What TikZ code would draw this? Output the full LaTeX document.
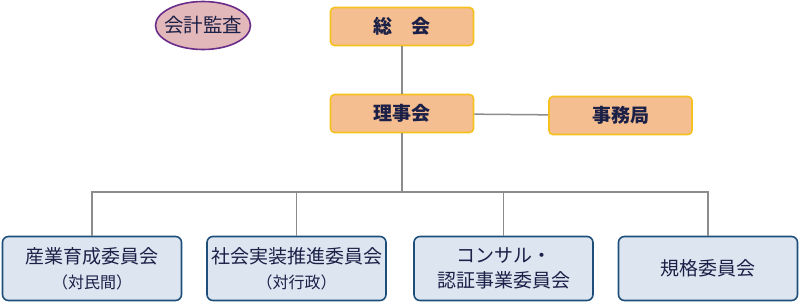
\documentclass[tikz,border=0pt]{standalone}
\usepackage{fontspec}
\setmainfont{Noto Sans CJK JP}
\usetikzlibrary{shapes.geometric}
\definecolor{boxorange}{HTML}{F4BE91}
\definecolor{goldline}{HTML}{F6C01E}
\definecolor{auditfill}{HTML}{E3B8BA}
\definecolor{auditline}{HTML}{6B2D8A}
\definecolor{cmtfill}{HTML}{DCE5F0}
\definecolor{cmtline}{HTML}{1E4F7A}
\definecolor{navytext}{HTML}{1B2047}
\definecolor{linkgray}{HTML}{8C8C8C}

\begin{document}
\begin{tikzpicture}[x=1pt, y=-1pt,
        board/.style={rectangle, rounded corners=4pt, draw=goldline, line width=1.6pt, fill=boxorange,
            minimum width=143pt, minimum height=38pt, text=navytext, font=\bfseries\fontsize{19}{22}\selectfont},
        audit/.style={ellipse, draw=auditline, line width=1.6pt, fill=auditfill, inner xsep=-14pt, inner ysep=0pt,
            minimum width=95pt, minimum height=48pt, text=navytext, font=\fontsize{19.5}{22}\selectfont},
        committee/.style={rectangle, rounded corners=6pt, draw=cmtline, line width=1.6pt, fill=cmtfill,
            minimum width=179pt, minimum height=64pt, align=center, text=navytext, font=\fontsize{19}{25}\selectfont},
        paths/.style={draw=linkgray, line width=1.5pt}
    ]

        \useasboundingbox (0,0) rectangle (800,303);

        % Nodes
        \node[audit] (kansa) at (203,25.5) {会計監査};
        \node[board] (sokai) at (402,26.5) {総\hspace{1em}会};
        \node[board] (rijikai) at (402,113.5) {理事会};
        \node[board] (jimukyoku) at (620.5,115.5) {事務局};

        \node[committee] (sangyo) at (92,268.5) {産業育成委員会\\{\fontsize{16}{22}\selectfont （対民間）}};
        \node[committee] (shakai) at (296.5,268.5) {社会実装推進委員会\\{\fontsize{16}{22}\selectfont （対行政）}};
        \node[committee] (consul) at (503.5,268.5) {コンサル・\\認証事業委員会};
        \node[committee] (kikaku) at (708,268.5) {規格委員会};

        \coordinate (bus) at (402,192);

        % Paths
        \draw[paths] (sokai) -- (rijikai);
        \draw[paths] (rijikai) -- (jimukyoku);
        \draw[paths] (rijikai) -- (bus);
        \draw[paths] (sangyo.north) |- (bus);
        \draw[paths] (shakai.north) |- (bus);
        \draw[paths] (consul.north) |- (bus);
        \draw[paths] (kikaku.north) |- (bus);
\end{tikzpicture}
\end{document}
